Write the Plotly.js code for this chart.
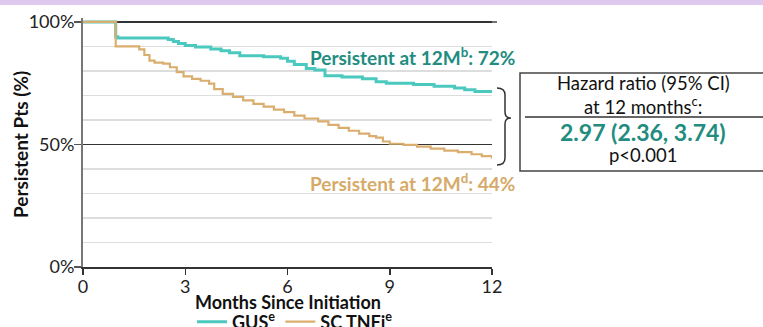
<!DOCTYPE html>
<html>
<head>
<meta charset="utf-8">
<script src="https://cdn.plot.ly/plotly-3.0.1.min.js"></script>
<style>html,body{margin:0;padding:0;background:#fff;}#chart{width:763px;height:327px;}</style>
</head>
<body>
<div id="chart"></div>
<script>
// ---- Data ----
const gusMonths = [0, 0.96, 1.02, 2.5, 2.65, 2.8, 3.0, 3.3, 3.75, 4.05, 4.3, 4.6, 5.3, 5.8, 6.0, 6.2, 6.55, 6.8, 7.1, 7.6, 8.2, 8.6, 8.9, 9.7, 10.3, 10.9, 11.2, 11.5, 12];
const gusPct    = [100, 94, 93.4, 92.8, 92.0, 91.2, 90.4, 89.8, 89.0, 88.2, 87.4, 86.2, 85.8, 85.2, 84.0, 82.6, 81.0, 80.4, 78.0, 77.5, 76.8, 75.6, 75.0, 74.5, 73.8, 73.0, 72.3, 71.6, 71.6];
const tnfMonths = [0, 0.96, 1.65, 1.8, 1.95, 2.1, 2.35, 2.55, 2.75, 2.95, 3.2, 3.45, 3.7, 3.85, 4.1, 4.4, 4.7, 5.0, 5.3, 5.6, 5.9, 6.2, 6.5, 6.9, 7.2, 7.5, 7.8, 8.1, 8.4, 8.6, 8.8, 9.0, 9.4, 9.8, 10.2, 10.6, 11.0, 11.4, 11.7, 12];
const tnfPct    = [100, 90, 88.8, 86.5, 84.2, 83.4, 83.0, 81.5, 79.5, 77.8, 76.8, 76.0, 74.8, 72.6, 70.6, 69.4, 68.0, 66.6, 65.4, 64.2, 63.2, 61.8, 60.6, 59.4, 58.0, 56.8, 55.6, 54.4, 53.4, 52.8, 51.2, 50.3, 49.8, 49.1, 48.3, 47.5, 46.9, 46.0, 45.2, 44.2];
const seriesNames = ['GUS<sup>e</sup>', 'SC TNFi<sup>e</sup>'];
const xTicks = [0, 3, 6, 9, 12];
const xTickText = ['0', '3', '6', '9', '12'];
const yTicks = [0, 50, 100];
const yTickText = ['0%', '50%', '100%'];
const yMinor = [10, 20, 30, 40, 60, 70, 80, 90];
const label12mGus = 'Persistent at 12M<sup>b</sup>: 72%';
const label12mTnf = 'Persistent at 12M<sup>d</sup>: 44%';
const hrLines = ['Hazard ratio (95% CI)', 'at 12 months<sup>c</sup>:', '2.97 (2.36, 3.74)', 'p&lt;0.001'];

// ---- Layout helpers (pixel -> paper) ----
const W = 763, H = 327;
const L = 83, R = 492, T = 18, B = 267;
const px = x => (x - L) / (R - L);
const py = y => (B - y) / (B - T);

const TEAL = '#4CC9BE', TEAL_TXT = '#228C80', TAN = '#D9AE6E', TAN_TXT = '#D6AA68';
const FONT = 'Lato, "Noto Sans", sans-serif';

const traces = [
  {x: gusMonths, y: gusPct, name: seriesNames[0], type: 'scatter', mode: 'lines',
   line: {color: TEAL, width: 3, shape: 'hv'}},
  {x: tnfMonths, y: tnfPct, name: seriesNames[1], type: 'scatter', mode: 'lines',
   line: {color: TAN, width: 2.2, shape: 'hv'}}
];

function bracePath() {
  const pts = [
    ['M', 497, 88], ['Q', 505, 88, 505, 95], ['L', 505, 112], ['Q', 505, 118, 511, 118],
    ['Q', 505, 118, 505, 124], ['L', 505, 158], ['Q', 505, 165, 497, 165]
  ];
  return pts.map(p => {
    let s = p[0];
    for (let i = 1; i < p.length; i += 2) s += ' ' + px(p[i]).toFixed(5) + ',' + py(p[i + 1]).toFixed(5);
    return s;
  }).join(' ');
}

const layout = {
  width: W, height: H,
  margin: {l: L, r: W - R, t: T, b: H - B, pad: 0, autoexpand: false},
  paper_bgcolor: '#fff', plot_bgcolor: '#fff',
  font: {family: FONT, size: 18, color: '#222'},
  showlegend: true,
  legend: {orientation: 'h', xref: 'container', yref: 'container', x: 295 / W, xanchor: 'center',
           y: 1 - 322 / H, yanchor: 'middle',
           font: {family: FONT, size: 18, color: '#111', weight: 'bold'}, itemwidth: 30,
           tracegroupgap: 0, bgcolor: 'rgba(0,0,0,0)'},
  xaxis: {range: [0, 12], tickvals: xTicks, ticktext: xTickText, showgrid: false, zeroline: false,
          automargin: false, ticklabelstandoff: -4,
          showline: true, linecolor: '#333', linewidth: 2, ticks: 'outside', ticklen: 6,
          tickcolor: '#333', tickwidth: 1.5, tickfont: {family: FONT, size: 18, color: '#222'}},
  yaxis: {range: [0, 101.6], tickvals: yTicks, ticktext: yTickText, showgrid: true,
          automargin: false, ticklabelstandoff: -4,
          gridcolor: '#333', gridwidth: 1.2, zeroline: false,
          minor: {tickvals: yMinor, showgrid: true, gridcolor: '#DDDDDD', gridwidth: 1.5, ticks: ''},
          showline: true, linecolor: '#777', linewidth: 2, ticks: 'outside', ticklen: 7,
          tickcolor: '#555', tickwidth: 1.5, tickfont: {family: FONT, size: 18, color: '#222'}},
  shapes: [
    {type: 'rect', xref: 'paper', yref: 'paper', x0: px(0), x1: px(W), y0: py(0), y1: py(5),
     fillcolor: '#E0C9EF', line: {width: 0}, layer: 'above'},
    {type: 'line', xref: 'paper', yref: 'paper', x0: px(83), x1: px(497), y0: py(22), y1: py(22),
     line: {color: '#444', width: 1.5}, layer: 'below'},
    {type: 'path', xref: 'paper', yref: 'paper', path: bracePath(), line: {color: '#333', width: 1.5}},
    {type: 'rect', xref: 'paper', yref: 'paper', x0: px(520), x1: px(790), y0: py(73), y1: py(171),
     line: {color: '#444', width: 1.5}, fillcolor: 'rgba(0,0,0,0)'},
    {type: 'line', xref: 'paper', yref: 'paper', x0: px(525), x1: px(790), y0: py(117), y1: py(117),
     line: {color: '#333', width: 1.5}}
  ],
  annotations: [
    {xref: 'paper', yref: 'paper', x: px(288), y: py(302), xanchor: 'center', yanchor: 'middle',
     text: 'Months Since Initiation', showarrow: false, font: {family: FONT, size: 18, color: '#111', weight: 'bold'}},
    {xref: 'paper', yref: 'paper', x: px(20), y: py(145), xanchor: 'center', yanchor: 'middle', textangle: -90,
     text: 'Persistent Pts (%)', showarrow: false, font: {family: FONT, size: 19, color: '#111', weight: 'bold'}},
    {xref: 'paper', yref: 'paper', x: px(308), y: py(57), xanchor: 'left', yanchor: 'middle',
     text: label12mGus, showarrow: false, font: {family: FONT, size: 19, color: TEAL_TXT, weight: 'bold'}},
    {xref: 'paper', yref: 'paper', x: px(308), y: py(182), xanchor: 'left', yanchor: 'middle',
     text: label12mTnf, showarrow: false, font: {family: FONT, size: 19, color: TAN_TXT, weight: 'bold'}},
    {xref: 'paper', yref: 'paper', x: px(643), y: py(83), xanchor: 'center', yanchor: 'middle',
     text: hrLines[0], showarrow: false, font: {family: FONT, size: 18.5, color: '#111'}},
    {xref: 'paper', yref: 'paper', x: px(643), y: py(105), xanchor: 'center', yanchor: 'middle',
     text: hrLines[1], showarrow: false, font: {family: FONT, size: 18.5, color: '#111'}},
    {xref: 'paper', yref: 'paper', x: px(643), y: py(132), xanchor: 'center', yanchor: 'middle',
     text: hrLines[2], showarrow: false, font: {family: FONT, size: 23, color: TEAL_TXT, weight: 'bold'}},
    {xref: 'paper', yref: 'paper', x: px(643), y: py(155), xanchor: 'center', yanchor: 'middle',
     text: hrLines[3], showarrow: false, font: {family: FONT, size: 18.5, color: '#111'}}
  ]
};

Plotly.newPlot('chart', traces, layout, {displayModeBar: false, staticPlot: true});
</script>
</body>
</html>
